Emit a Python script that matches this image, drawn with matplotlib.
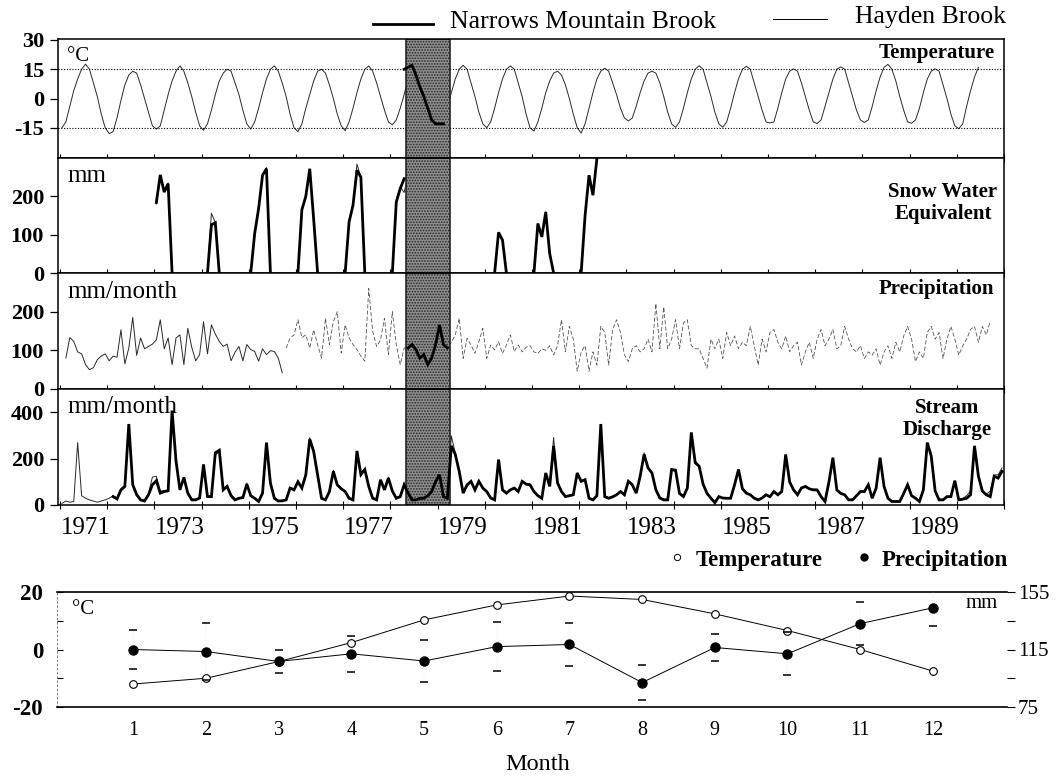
import numpy as np
import matplotlib.pyplot as plt
from matplotlib.lines import Line2D

plt.rcParams['font.family'] = ['Liberation Serif', 'DejaVu Serif']
plt.rcParams['hatch.linewidth'] = 0.8
plt.rcParams['axes.unicode_minus'] = False

# month index 0 = January 1971
temp_hayden = [
    -15, -12, -4, 4, 10, 15, 17.6, 15, 8, 1, -8, -15,          # 1971
    -18, -17, -10, -1, 7, 12, 14, 13, 7, 0, -7, -14,           # 1972
    -15.7, -14, -6, 2, 9, 14, 16.7, 14, 8, 1, -7, -14,         # 1973
    -16.3, -13, -6, 2, 9, 13, 15, 14, 8, 2, -6, -13,           # 1974
    -15.7, -12, -5, 3, 10, 15, 16.7, 14, 8, 1, -8, -15,        # 1975
    -17, -13, -5, 2, 9, 14, 15, 13, 7, 0, -8, -14,             # 1976
    -16.5, -12, -5, 3, 10, 15, 16.7, 14, 8, 1, -6, -12,        # 1977
    -13.5, -11, -5, 2, 10, 15, 17, 15, 8, 1, -7, -13,          # 1978
    -15, -12, -5, 3, 10, 15, 17, 15, 8, 1, -7, -13,            # 1979
    -15, -12, -5, 3, 10, 15, 16.7, 15, 8, 1, -8, -15,          # 1980
    -16.7, -12, -5, 3, 9, 13, 14, 12, 7, 0, -8, -15,           # 1981
    -17.7, -13, -5, 3, 10, 14, 15.5, 14, 8, 2, -5, -10,        # 1982
    -11.5, -10, -4, 3, 9, 13, 14, 13, 8, 1, -7, -13,           # 1983
    -14.8, -12, -5, 3, 10, 15, 16.8, 15, 8, 1, -7, -13,        # 1984
    -14.7, -12, -5, 3, 10, 15, 16.5, 15, 8, 1, -6, -12,        # 1985
    -12.5, -12, -5, 3, 10, 14, 15.2, 14, 8, 1, -6, -12,        # 1986
    -12.8, -11, -4, 3, 10, 15, 16.2, 15, 8, 1, -6, -11,        # 1987
    -12.3, -11, -4, 4, 11, 16, 17.5, 15, 9, 1, -6, -12,        # 1988
    -12.7, -11, -5, 3, 10, 14, 15.2, 14, 7, 0, -8, -14,        # 1989
    -15.5, -13, -4, 4, 11, 16,                                 # 1990
]
temp_narrows_start = 87
temp_narrows = [15, 16, 17, 12, 6, 1, -5, -11, -13, -13, -13]

# snow water equivalent: (first month, values) per winter
swe_narrows = [
    (24, [184, 256, 211, 233, 0]),
    (37, [0, 126, 131, 0]),
    (48, [0, 103, 168, 255, 272, 0]),
    (60, [0, 165, 200, 272, 140, 0]),
    (72, [0, 133, 177, 268, 250, 0]),
    (84, [0, 185, 220, 246]),
    (110, [0, 106, 86, 0]),
    (120, [0, 129, 94, 159, 51, 0]),
    (132, [0, 150, 255, 203, 298]),
]
swe_hayden = [
    (24, [180, 250, 215, 235, 0]),
    (37, [0, 156, 131, 0]),
    (48, [0, 105, 170, 258, 275, 0]),
    (60, [0, 160, 205, 270, 140, 0]),
    (72, [0, 130, 180, 284, 250, 0]),
    (84, [0, 190, 225, 210, 255]),
    (110, [0, 100, 86, 0]),
    (120, [0, 129, 100, 160, 55, 0]),
    (132, [0, 150, 250, 205, 295]),
]

precip_hayden_a_start = 1
precip_hayden_a = [
    80, 133, 123, 96, 91, 63, 50, 55, 76, 85, 91, 73,
    85, 82, 153, 65, 106, 185, 87, 132, 104, 110, 116, 127,
    179, 104, 132, 63, 132, 140, 63, 157, 108, 73, 89, 174,
    91, 166, 142, 123, 110, 116, 73, 95, 110, 73, 115, 102,
    97, 72, 104, 89, 99, 97, 80, 42,
]
precip_hayden_b_start = 57
precip_hayden_b = [
    106, 132, 140, 179, 133, 140, 106, 153, 115, 80, 183, 115, 174, 200, 93,
    166, 132, 115, 102, 85, 72, 260, 149, 110, 127, 183, 89, 200, 115, 63, 106,
    110, 120, 100, 90, 95, 70, 90, 120, 150, 120, 110,
    120, 140, 183, 79, 131, 114, 92, 122, 157, 79, 114, 101, 122, 92, 114, 140, 97, 114,
    96, 108, 112, 96, 92, 104, 100, 112, 88, 112,
    179, 96, 162, 129, 46, 96, 112, 46, 96, 62,
    162, 146, 62, 154, 179, 146, 88, 71, 104, 112,
    96, 104, 129, 96, 221, 104, 212, 104, 129, 179,
    104, 171, 179, 112, 104, 104, 79, 54, 129, 104,
    129, 79, 146, 112, 137, 104, 121, 112, 162, 112,
    62, 129, 96, 146, 154, 121, 104, 137, 96, 112,
    121, 62, 96, 121, 79, 129, 154, 112, 129, 154,
    104, 112, 162, 129, 104, 96, 112, 79, 96, 88,
    104, 62, 96, 112, 79, 121, 96, 137, 162, 129,
    71, 96, 79, 146, 162, 129, 146, 79, 129, 162,
    129, 88, 112, 129, 154, 162, 121, 162, 140, 175,
]
precip_narrows_start = 88
precip_narrows = [106, 115, 102, 80, 89, 63, 80, 115, 166, 115, 106]

discharge_narrows_start = 13
discharge_narrows = [
    36, 26, 65, 80, 349, 87, 44, 22, 17, 44, 87,
    105, 51, 58, 61, 407, 190, 65, 119, 51, 22, 22, 30,
    175, 36, 36, 225, 236, 65, 80, 40, 22, 29, 32, 90,
    40, 29, 15, 51, 269, 95, 29, 17, 18, 22, 73, 65,
    100, 73, 130, 284, 230, 130, 29, 22, 58, 145, 87, 70,
    58, 29, 22, 233, 131, 153, 80, 29, 22, 109, 65, 116,
    60, 29, 36, 87, 51, 22, 22, 29, 29, 40, 58, 100,
    131, 36, 29, 255, 218, 145, 51, 87, 102, 65, 102, 73,
    58, 30, 22, 196, 65, 51, 65, 73, 58, 102, 90, 87,
    58, 40, 29, 138, 80, 255, 95, 58, 36, 40, 44, 138,
    102, 109, 29, 22, 40, 349, 36, 29, 35, 44, 58, 44,
    102, 87, 51, 124, 218, 160, 138, 65, 30, 22, 22, 153,
    150, 50, 36, 73, 313, 182, 167, 90, 50, 29, 10, 36,
    30, 29, 29, 87, 153, 70, 51, 44, 29, 22, 30, 44,
    36, 58, 44, 58, 218, 100, 65, 44, 73, 80, 70, 65,
    65, 36, 15, 100, 204, 65, 50, 44, 22, 22, 40, 58,
    58, 87, 29, 73, 204, 80, 29, 15, 15, 15, 50, 87,
    40, 29, 15, 65, 269, 211, 60, 22, 22, 36, 36, 105,
    22, 25, 29, 44, 255, 124, 60, 44, 36, 124, 116, 145,
]
discharge_hayden = [
    7, 17, 12, 15, 269, 40, 29, 22, 17, 12, 17, 22,
    29, 40, 30, 70, 85, 330, 95, 50, 25, 20, 50, 120,
    124, 60, 62, 65, 390, 200, 70, 110, 55, 25, 25, 30,
    165, 40, 38, 215, 230, 70, 85, 45, 25, 30, 35, 95,
    42, 30, 18, 55, 260, 100, 32, 20, 20, 25, 75, 70,
    105, 75, 135, 290, 240, 135, 32, 25, 60, 150, 90, 72,
    60, 32, 25, 225, 140, 155, 85, 32, 25, 105, 70, 120,
    62, 32, 40, 90, 55, 25, 25, 30, 30, 45, 60, 105,
    135, 40, 32, 298, 225, 140, 55, 80, 100, 70, 105, 75,
    62, 32, 25, 190, 70, 55, 68, 75, 60, 105, 92, 90,
    60, 42, 32, 135, 85, 291, 100, 60, 40, 42, 46, 130,
    105, 110, 32, 25, 42, 340, 40, 32, 38, 46, 60, 46,
    105, 90, 55, 120, 225, 165, 140, 68, 32, 25, 25, 150,
    145, 52, 40, 76, 305, 190, 170, 92, 52, 32, 14, 38,
    32, 32, 32, 90, 150, 72, 54, 46, 32, 25, 32, 46,
    38, 60, 46, 60, 210, 104, 68, 46, 76, 82, 72, 68,
    68, 38, 18, 104, 200, 68, 52, 46, 25, 25, 42, 60,
    60, 90, 32, 75, 198, 82, 32, 18, 18, 18, 52, 90,
    42, 32, 18, 68, 262, 220, 62, 25, 25, 38, 38, 100,
    25, 28, 40, 60, 250, 130, 62, 46, 60, 130, 130, 160,
]

year_labels = ['1971', '1973', '1975', '1977', '1979', '1981', '1983', '1985', '1987', '1989']

# monthly means (bottom panel)
month_nums = [1, 2, 3, 4, 5, 6, 7, 8, 9, 10, 11, 12]
temp_means = [-12, -10, -4.2, 2.4, 10.3, 15.5, 18.6, 17.4, 12.4, 6.6, 0, -7.5]
precip_means = [115, 113.6, 106.7, 112, 107, 117, 118.5, 92, 116.4, 112, 133, 144]
precip_err = [13.8, 20, 7.8, 12.4, 14.5, 17, 15, 12, 9.2, 15, 15, 12.4]

W, H = 1063, 779
fig = plt.figure(figsize=(W / 100, H / 100), dpi=100)


def fx(px):
    return px / W


def fy(py):
    return 1 - py / H


def months(start, vals):
    return np.arange(start, start + len(vals))


thick = dict(color='k', lw=2.0, zorder=3, solid_joinstyle='miter')
thin = dict(color='#2a2a2a', lw=0.7, zorder=1)

left, right = 58, 1004
rows = [(39, 158), (158, 273), (273, 389), (389, 505)]
axes = []
for top, bot in rows:
    ax = fig.add_axes([fx(left), fy(bot), fx(right - left), (bot - top) / H])
    axes.append(ax)
ax_t, ax_s, ax_p, ax_q = axes

# temperature
ax_t.plot(months(0, temp_hayden), temp_hayden, **thin)
ax_t.plot(months(temp_narrows_start, temp_narrows), temp_narrows, **thick)
for lvl in (15, -15):
    ax_t.axhline(lvl, color='k', lw=0.8, ls=(0, (1, 1.5)), zorder=1)
ax_t.set_ylim(-30.5, 30.5)
ax_t.set_yticks([-15, 0, 15, 30])

# snow water equivalent
for start, vals in swe_hayden:
    ax_s.plot(months(start, vals), vals, **thin)
for start, vals in swe_narrows:
    ax_s.plot(months(start, vals), vals, **thick)
ax_s.set_ylim(0, 300)
ax_s.set_yticks([0, 100, 200])

# precipitation
ax_p.plot(months(precip_hayden_a_start, precip_hayden_a), precip_hayden_a, **thin)
ax_p.plot(months(precip_hayden_b_start, precip_hayden_b), precip_hayden_b,
          color='#555555', lw=0.6, ls=(0, (5, 2.5)), zorder=1)
ax_p.plot(months(precip_narrows_start, precip_narrows), precip_narrows, **thick)
ax_p.set_ylim(0, 300)
ax_p.set_yticks([0, 100, 200])

# stream discharge
ax_q.plot(months(0, discharge_hayden), discharge_hayden, **thin)
ax_q.plot(months(discharge_narrows_start, discharge_narrows), discharge_narrows, **thick)
ax_q.set_ylim(0, 500)
ax_q.set_yticks([0, 200, 400])

for ax in axes:
    ax.axvspan(87.5, 98.6, facecolor='#8e8e8e', edgecolor='#262626',
               hatch='......', lw=1.2, zorder=2)
    ax.set_xlim(-1, 239.5)
    ax.set_xticks([12 * k - 0.5 for k in range(21)])
    ax.set_xticklabels([])
    ax.tick_params(axis='x', direction='inout', length=6, width=0.8)
    ax.tick_params(axis='y', direction='out', length=6, width=0.9, pad=4, labelsize=16)
    for lab in ax.get_yticklabels():
        lab.set_fontweight('bold')
    for sp in ax.spines.values():
        sp.set_linewidth(1.1)

ax_q.set_xticks([12 * (int(y) - 1971) + 6 for y in year_labels], minor=True)
ax_q.set_xticklabels(year_labels, minor=True, fontsize=18)
ax_q.tick_params(axis='x', which='minor', length=0, pad=9)

unit_kw = dict(ha='left', va='center')
ax_t.text(0.01, 0.85, '°C', transform=ax_t.transAxes, fontsize=15, **unit_kw)
ax_s.text(0.01, 0.84, 'mm', transform=ax_s.transAxes, fontsize=18, **unit_kw)
ax_p.text(0.01, 0.836, 'mm/month', transform=ax_p.transAxes, fontsize=18, **unit_kw)
ax_q.text(0.01, 0.845, 'mm/month', transform=ax_q.transAxes, fontsize=18, **unit_kw)

title_kw = dict(fontsize=15, fontweight='bold', va='center')
ax_t.text(0.99, 0.88, 'Temperature', transform=ax_t.transAxes, ha='right', **title_kw)
ax_s.text(0.9355, 0.61, 'Snow Water\nEquivalent', transform=ax_s.transAxes,
          ha='center', linespacing=1.15, **title_kw)
ax_p.text(0.99, 0.862, 'Precipitation', transform=ax_p.transAxes, ha='right', **title_kw)
ax_q.text(0.94, 0.74, 'Stream\nDischarge', transform=ax_q.transAxes,
          ha='center', linespacing=1.15, **title_kw)

# top legend
fig.add_artist(Line2D([fx(373), fx(433)], [fy(24), fy(24)], color='k', lw=2.0))
fig.text(fx(450), fy(22), 'Narrows Mountain Brook', fontsize=18.5, va='center')
fig.add_artist(Line2D([fx(773), fx(827)], [fy(19), fy(19)], color='k', lw=0.7))
fig.text(fx(855), fy(17), 'Hayden Brook', fontsize=18.5, va='center')

# monthly means panel
axb = fig.add_axes([fx(57), fy(707), fx(950), 115 / H])
axb.plot(month_nums, temp_means, color='k', lw=0.7, marker='o', mfc='white',
         mec='k', ms=5.5, mew=0.8, zorder=3)
axb.set_xlim(-0.05, 13.02)
axb.set_ylim(-20, 20)
axb.set_xticks(month_nums)
axb.tick_params(axis='x', length=0, pad=10, labelsize=14.5)
axb.set_yticks([-20, -10, 0, 10, 20])
axb.set_yticklabels(['-20', '', '0', '', '20'], fontweight='bold')
axb.tick_params(axis='y', direction='in', length=4, width=0.8, pad=10, labelsize=16.5)
axb.spines['right'].set_visible(False)
axb.spines['left'].set_linestyle((0, (2, 3)))
axb.spines['left'].set_linewidth(0.6)
axb.spines['left'].set_color('#666666')
axb.spines['top'].set_linewidth(1.2)
axb.spines['bottom'].set_linewidth(1.2)

axb2 = axb.twinx()
eb = axb2.errorbar(month_nums, precip_means, yerr=precip_err, fmt='none',
                   ecolor='k', elinewidth=0.3, capsize=3, capthick=1.1)
eb[2][0].set_linestyle((0, (1, 4)))
eb[2][0].set_color('#bbbbbb')
axb2.plot(month_nums, precip_means, color='k', lw=0.7, marker='o', ms=6.5, zorder=3)
axb2.set_ylim(75, 155)
axb2.set_yticks([75, 95, 115, 135, 155])
axb2.set_yticklabels(['75', '', '115', '', '155'])
axb2.tick_params(axis='y', direction='out', length=6, width=0.8, pad=2, labelsize=15)
for sp in axb2.spines.values():
    sp.set_visible(False)

axb.text(0.016, 0.85, '°C', transform=axb.transAxes, fontsize=15, ha='left', va='center')
axb.text(0.99, 0.9, 'mm', transform=axb.transAxes, fontsize=15, ha='right', va='center')

fig.legend(handles=[
    Line2D([], [], marker='o', ls='none', mfc='white', mec='k', ms=4.5, mew=0.7),
    Line2D([], [], marker='o', ls='none', color='k', ms=5)],
    labels=['Temperature', 'Precipitation'], loc='center',
    bbox_to_anchor=(fx(837), fy(560)), ncol=2, frameon=False,
    prop=dict(weight='bold', size=16.5), handletextpad=0.3,
    columnspacing=1.3, handlelength=1.0)

fig.text(fx(538), fy(765), 'Month', fontsize=17.5, ha='center', va='center')

fig.savefig('out.png', dpi=100)
